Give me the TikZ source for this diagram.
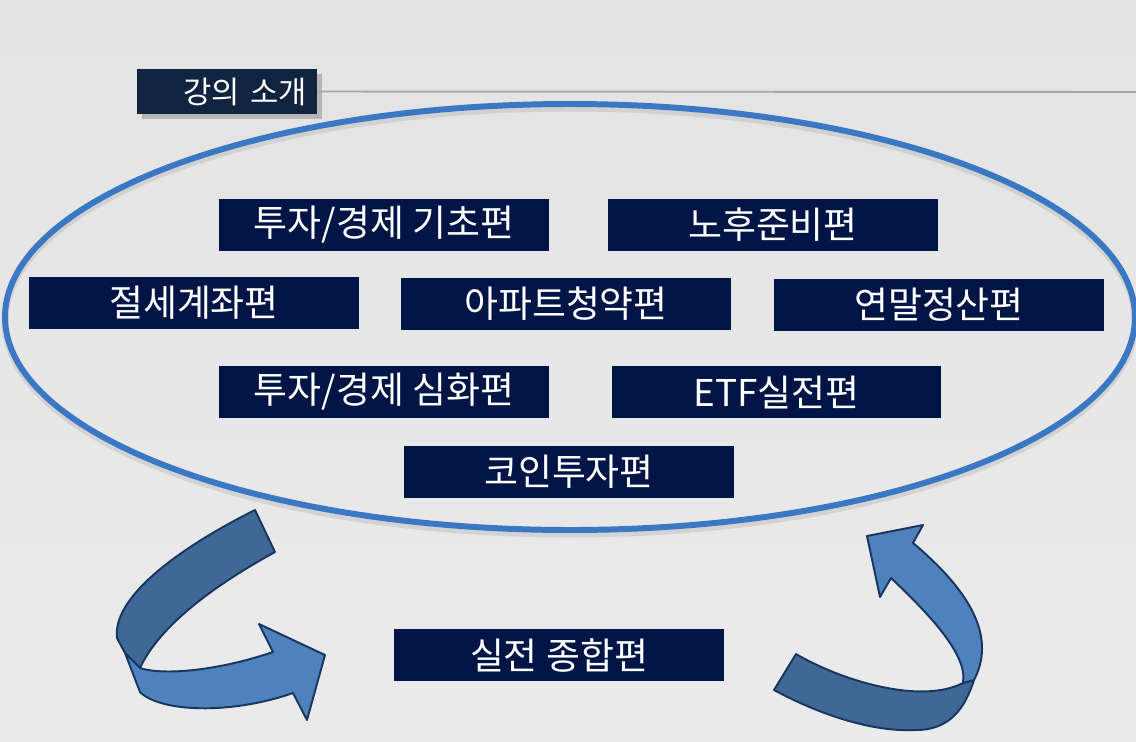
\documentclass[tikz,border=0pt]{standalone}
\usepackage{fontspec}
\setmainfont{Noto Sans CJK KR}
\usetikzlibrary{shadows}

\definecolor{navy}{RGB}{0,20,70}
\definecolor{titlenavy}{RGB}{16,36,64}
\definecolor{ringblue}{RGB}{59,120,196}
\definecolor{banddark}{RGB}{63,104,151}
\definecolor{bandlight}{RGB}{79,129,189}
\definecolor{bandline}{RGB}{23,54,93}

\begin{document}
\begin{tikzpicture}[
        x=0.02cm, y=-0.02cm,
        topic/.style={fill=navy, text=white, minimum width=6.6cm, minimum height=1.04cm, inner sep=0pt, font=\fontsize{21}{24}\selectfont},
        heading/.style={fill=titlenavy, text=white, text width=3.2cm, align=right, inner xsep=0.2cm, minimum height=0.9cm, font=\fontsize{17.5}{20}\selectfont, drop shadow={shadow xshift=3pt, shadow yshift=-3pt, opacity=0.45}},
        ring/.style={draw=ringblue, line width=3.4pt},
        dark/.style={fill=banddark, draw=bandline, line width=1.1pt, line join=round},
        light/.style={fill=bandlight, draw=bandline, line width=1.1pt, line join=round}
    ]

    % background
    \shade[top color=black!11, bottom color=black!8] (0,0) rectangle (1136,741);
    \useasboundingbox (0,0) rectangle (1136,741);

    % title bar
    \node[heading] (title) at (227,91.5) {강의 소개};
    \coordinate (lineend) at (1136,92);
    \draw[black!35, line width=1.1pt] (title.east) -- (lineend);

    % ring
    \draw[black!25, line width=4pt, opacity=0.5] (570,321) ellipse [x radius=565, y radius=213];
    \draw[ring] (570,317) ellipse [x radius=565, y radius=213];

    \node[topic] (basics) at (384,225) {투자/경제 기초편};
    \node[topic] (retire) at (773,225) {노후준비편};
    \node[topic] (taxacct) at (194,303) {절세계좌편};
    \node[topic] (apt) at (566,304) {아파트청약편};
    \node[topic] (yearend) at (939,304.5) {연말정산편};
    \node[topic] (advanced) at (384,392) {투자/경제 심화편};
    \node[topic] (etf) at (776.5,392) {ETF실전편};
    \node[topic] (coin) at (569,472) {코인투자편};
    \node[topic] (final) at (559,655) {실전 종합편};

    % left arrow
    \filldraw[dark] (255,510) .. controls (185,545) and (112,595) .. (117,638) -- (125,653) -- (140,668) .. controls (160,625) and (215,585) .. (275,552) -- cycle;
    \filldraw[light] (125,653) -- (140,668) .. controls (165,676) and (220,670) .. (273,652) -- (259,624) -- (325,655) -- (307,720) -- (293,693) .. controls (230,715) and (160,712) .. (140,692) -- cycle;

    % right arrow
    \filldraw[dark] (796,654) .. controls (840,680) and (920,705) .. (963,683) -- (974,680) .. controls (965,708) and (950,730) .. (916,730) .. controls (880,732) and (830,720) .. (774,690) -- cycle;
    \filldraw[light] (963,683) -- (974,680) .. controls (995,640) and (975,595) .. (913,543) -- (923,525) -- (867,536) -- (880,597) -- (891,578) .. controls (930,615) and (968,655) .. (963,683) -- cycle;

\end{tikzpicture}
\end{document}
